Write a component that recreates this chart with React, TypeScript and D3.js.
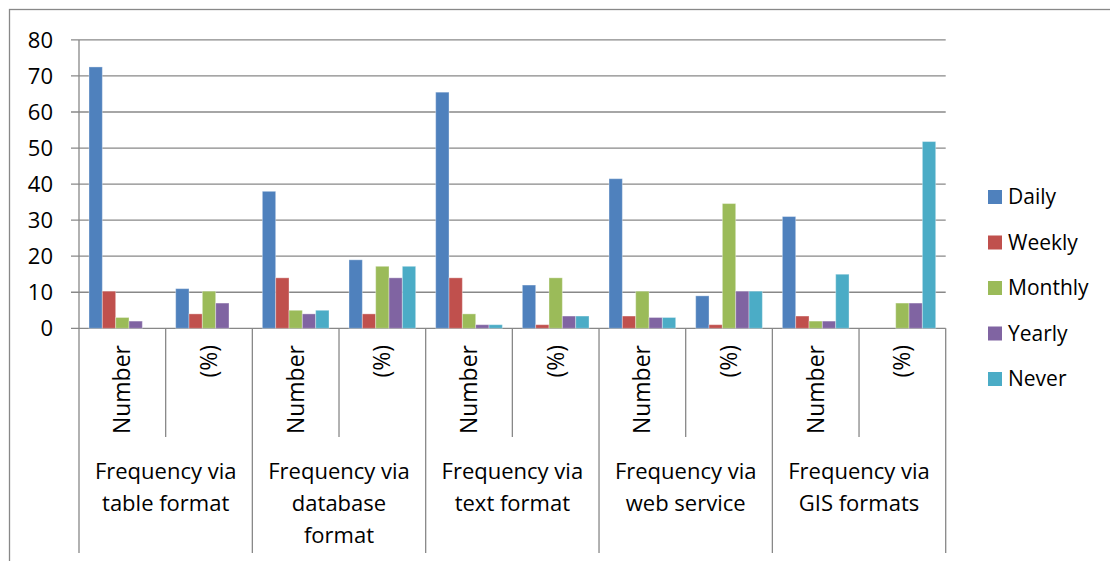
import React from 'react';
import * as d3 from 'd3';

const groupLabels = [
  ['Frequency via', 'table format'],
  ['Frequency via', 'database', 'format'],
  ['Frequency via', 'text format'],
  ['Frequency via', 'web service'],
  ['Frequency via', 'GIS formats'],
];
const subLabels = ['Number', '(%)'];
const seriesNames = ['Daily', 'Weekly', 'Monthly', 'Yearly', 'Never'];
const colors = ['#4F81BD', '#C0504D', '#9BBB59', '#8064A2', '#4BACC6'];

const daily = [72.5, 11, 38, 19, 65.5, 12, 41.5, 9, 31, 0];
const weekly = [10.3, 4, 14, 4, 14, 1, 3.4, 1, 3.4, 0];
const monthly = [3, 10.3, 5, 17.2, 4, 14, 10.3, 34.6, 2, 7];
const yearly = [2, 7, 4, 14, 1, 3.4, 3, 10.3, 2, 7];
const never = [0, 0, 5, 17.2, 1, 3.4, 3, 10.3, 15, 51.8];
const yTicks = [0, 10, 20, 30, 40, 50, 60, 70, 80];

const FONT = '"Open Sans", sans-serif';
const GRID = '#888888';

export default function App() {
  const series = [daily, weekly, monthly, yearly, never];
  const left = 79, right = 945.7, top = 39.9, bottom = 328.3;
  const subRowBottom = 437, groupRowBottom = 553;

  const cats = d3.range(groupLabels.length * subLabels.length);
  const x = d3.scaleBand<number>().domain(cats).range([left, right]).padding(0);
  const x1 = d3.scaleBand<number>()
    .domain(d3.range(series.length))
    .range([0, x.bandwidth()])
    .paddingInner(0)
    .paddingOuter(0.75);
  const y = d3.scaleLinear().domain([0, 80]).range([bottom, top]);
  const groupW = x.bandwidth() * subLabels.length;

  return (
    <svg width={1110} height={561} style={{ position: 'absolute', left: 0, top: 0, background: '#fff' }}>
      <rect x={9.5} y={9.5} width={1200} height={700} fill="none" stroke={GRID} strokeWidth={1.3} />

      {yTicks.map(t => (
        <g key={t}>
          <line x1={left - 8} x2={right} y1={y(t)} y2={y(t)} stroke={GRID} strokeWidth={1.3} />
          <text x={53} y={y(t)} dy="0.35em" textAnchor="end" fontFamily={FONT} fontSize={22} fill="#000">{t}</text>
        </g>
      ))}
      <line x1={left} x2={left} y1={top} y2={bottom} stroke={GRID} strokeWidth={1.3} />

      {series.map((vals, si) => (
        <g key={seriesNames[si]}>
          {vals.map((v, ci) => v > 0 && (
            <rect
              key={ci}
              x={x(ci)! + x1(si)!}
              y={y(v)}
              width={x1.bandwidth()}
              height={y(0) - y(v)}
              fill={colors[si]}
              stroke="#ffffff"
              strokeOpacity={0.35}
              strokeWidth={1}
            />
          ))}
        </g>
      ))}

      {/* sub-category dividers and labels */}
      {cats.map(ci => (
        <g key={ci}>
          {ci % 2 === 1 && (
            <line x1={x(ci)} x2={x(ci)} y1={bottom} y2={subRowBottom} stroke={GRID} strokeWidth={1.3} />
          )}
          <text
            transform={`translate(${x(ci)! + x.bandwidth() / 2},345) rotate(-90)`}
            textAnchor="end"
            dy="0.35em"
            fontFamily={FONT}
            fontSize={23}
            fill="#000"
          >{subLabels[ci % 2]}</text>
        </g>
      ))}

      {/* group dividers and labels */}
      {d3.range(groupLabels.length + 1).map(gi => (
        <line key={gi} x1={left + gi * groupW} x2={left + gi * groupW} y1={bottom} y2={groupRowBottom} stroke={GRID} strokeWidth={1.3} />
      ))}
      {groupLabels.map((lines, gi) => (
        <text key={gi} textAnchor="middle" fontFamily={FONT} fontSize={22} fill="#000">
          {lines.map((l, li) => (
            <tspan key={li} x={left + gi * groupW + groupW / 2} y={479 + li * 32}>{l}</tspan>
          ))}
        </text>
      ))}

      {/* legend */}
      {seriesNames.map((n, i) => (
        <g key={n} transform={`translate(988,${190 + i * 45.5})`}>
          <rect width={14} height={14} fill={colors[i]} />
          <text x={20} y={14} fontFamily={FONT} fontSize={21} fill="#000">{n}</text>
        </g>
      ))}
    </svg>
  );
}
